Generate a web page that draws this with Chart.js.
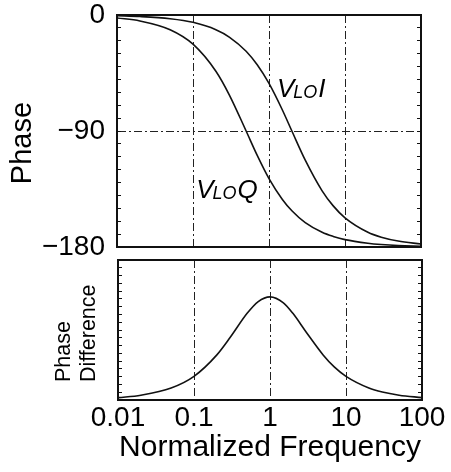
<!DOCTYPE html>
<html>
<head>
<meta charset="utf-8">
<script src="https://cdn.jsdelivr.net/npm/chart.js@4.4.1/dist/chart.umd.min.js"></script>
<style>
  body { margin: 0; background: #fff; }
  #phaseBox { position: absolute; left: 0; top: 0; width: 451px; height: 265px; }
  #diffBox { position: absolute; left: 0; top: 250px; width: 451px; height: 222px; }
</style>
</head>
<body>
<div id="phaseBox"><canvas id="phaseChart"></canvas></div>
<div id="diffBox"><canvas id="diffChart"></canvas></div>
<script>
// values
const freq = [0.01, 0.02, 0.05, 0.1, 0.2, 0.3, 0.5, 0.7, 1, 1.5, 2, 3, 5, 7, 10, 20, 30, 50, 100];
const phaseI = [-0.6, -1.2, -2.9, -5.7, -11.4, -17.1, -28.1, -38.6, -53.1, -73.7, -90, -112.6, -136.4, -148.1, -157.4, -168.6, -172.4, -175.4, -177.7];
const phaseQ = [-2.3, -4.6, -11.4, -22.6, -43.6, -61.9, -90, -108.9, -126.9, -143.1, -151.9, -161.1, -168.6, -171.8, -174.3, -177.1, -178.1, -178.9, -179.4];
const phaseDiff = [1.5, 3.1, 7.7, 15.2, 29, 40.3, 55.7, 63.3, 66.3, 62.5, 55.7, 43.6, 29, 21.3, 15.2, 7.7, 5.1, 3.1, 1.5];
const freqTicks = [0.01, 0.1, 1, 10, 100];
const phaseTicks = [0, -90, -180];

Chart.defaults.font.family = '"Liberation Sans", Arial, sans-serif';
Chart.defaults.color = '#000';

const ink = '#111';
const dashDot = [8, 3, 2, 3];

// curve names, anchored in data coordinates
const curveLabels = [
  { main: 'V', sub: 'LO', end: 'I', at: [1.27, -64] },
  { main: 'V', sub: 'LO', end: 'Q', at: [0.11, -142] }
];

const curveLabelPlugin = {
  id: 'curveLabels',
  afterDatasetsDraw(chart) {
    const { ctx, scales: { x, y } } = chart;
    const big = 'italic 26px "Liberation Sans", Arial, sans-serif';
    const small = 'italic 18px "Liberation Sans", Arial, sans-serif';
    ctx.save();
    ctx.fillStyle = '#000';
    ctx.textBaseline = 'alphabetic';
    curveLabels.forEach(l => {
      let px = x.getPixelForValue(l.at[0]);
      const py = y.getPixelForValue(l.at[1]);
      ctx.font = big;
      ctx.fillText(l.main, px, py);
      px += ctx.measureText(l.main).width - 1;
      ctx.font = small;
      ctx.fillText(l.sub, px, py + 1);
      px += ctx.measureText(l.sub).width + 1;
      ctx.font = big;
      ctx.fillText(l.end, px, py);
    });
    ctx.restore();
  }
};

// keep tick labels from pushing the plot box around
function noLabelPadding(s) {
  s.paddingTop = 0;
  s.paddingBottom = 0;
  s.paddingLeft = 0;
  s.paddingRight = 0;
}

function logX(showLabels) {
  return {
    type: 'logarithmic',
    min: 0.01,
    max: 100,
    afterBuildTicks: s => { s.ticks = freqTicks.map(v => ({ value: v })); },
    ticks: {
      display: showLabels,
      autoSkip: false,
      maxRotation: 0,
      padding: 4,
      font: { size: 28, lineHeight: 1 },
      callback: v => String(v)
    },
    grid: { color: '#222', lineWidth: 1, drawTicks: false },
    border: { color: ink, width: 2, dash: dashDot }
  };
}

const frameTop = {
  position: 'top',
  type: 'linear',
  grid: { display: false },
  ticks: { display: false },
  border: { color: ink, width: 2 },
  afterFit: s => { s.height = 0; }
};

function rightTicks(min, max, step) {
  return {
    position: 'right',
    min: min,
    max: max,
    ticks: { display: false, stepSize: step, autoSkip: false },
    grid: { drawOnChartArea: false, tickColor: ink, tickLength: -4, tickWidth: 1 },
    border: { color: ink, width: 2 },
    afterFit: s => { s.width = 0; }
  };
}

new Chart(document.getElementById('phaseChart'), {
  type: 'line',
  data: {
    datasets: [
      { label: 'VLoI', data: freq.map((f, i) => ({ x: f, y: phaseI[i] })) },
      { label: 'VLoQ', data: freq.map((f, i) => ({ x: f, y: phaseQ[i] })) }
    ]
  },
  options: {
    responsive: true,
    maintainAspectRatio: false,
    animation: false,
    layout: { padding: { top: 15, right: 30, bottom: 18, left: 0 } },
    elements: {
      line: { borderColor: ink, borderWidth: 1.6, cubicInterpolationMode: 'monotone' },
      point: { radius: 0 }
    },
    plugins: { legend: { display: false }, tooltip: { enabled: false } },
    scales: {
      x: Object.assign(logX(false), { afterFit: s => { s.height = 0; } }),
      xTop: frameTop,
      y: {
        min: -180,
        max: 0,
        afterFit: s => { s.width = 117; noLabelPadding(s); },
        ticks: {
          stepSize: 10,
          autoSkip: false,
          padding: 16,
          font: { size: 28, lineHeight: 1 },
          callback: v => phaseTicks.includes(v) ? (v < 0 ? '\u2212' + Math.abs(v) : String(v)) : ''
        },
        grid: {
          color: c => (c.tick && c.tick.value === -90) ? '#222' : 'rgba(0,0,0,0)',
          tickColor: ink,
          tickLength: -4,
          tickWidth: 1
        },
        border: { color: ink, width: 2, dash: dashDot },
        title: { display: true, text: 'Phase   ', font: { size: 29 }, padding: { top: 6, bottom: 0 } }
      },
      yRight: rightTicks(-180, 0, 10)
    }
  },
  plugins: [curveLabelPlugin]
});

new Chart(document.getElementById('diffChart'), {
  type: 'line',
  data: {
    datasets: [
      { label: 'Phase Difference', data: freq.map((f, i) => ({ x: f, y: phaseDiff[i] })) }
    ]
  },
  options: {
    responsive: true,
    maintainAspectRatio: false,
    animation: false,
    layout: { padding: { top: 10, right: 29, bottom: 0, left: 0 } },
    elements: {
      line: { borderColor: ink, borderWidth: 1.6, cubicInterpolationMode: 'monotone' },
      point: { radius: 0 }
    },
    plugins: { legend: { display: false }, tooltip: { enabled: false } },
    scales: {
      x: Object.assign(logX(true), {
        afterFit: s => { s.height = 72; noLabelPadding(s); },
        title: { display: true, text: 'Normalized Frequency', font: { size: 30, lineHeight: 1 }, padding: { top: 0, bottom: 9 } }
      }),
      xTop: frameTop,
      y: {
        min: 0,
        max: 90,
        afterFit: s => { s.width = 118; },
        ticks: { display: false, stepSize: 5, autoSkip: false },
        grid: { color: 'rgba(0,0,0,0)', tickColor: ink, tickLength: -4, tickWidth: 1 },
        border: { color: ink, width: 2 },
        title: {
          display: true,
          text: ['   Phase', '   Difference'],
          align: 'start',
          font: { size: 21.5, lineHeight: 1.16 },
          padding: { top: 52, bottom: 0 }
        }
      },
      yRight: rightTicks(0, 90, 5)
    }
  }
});
</script>
</body>
</html>
